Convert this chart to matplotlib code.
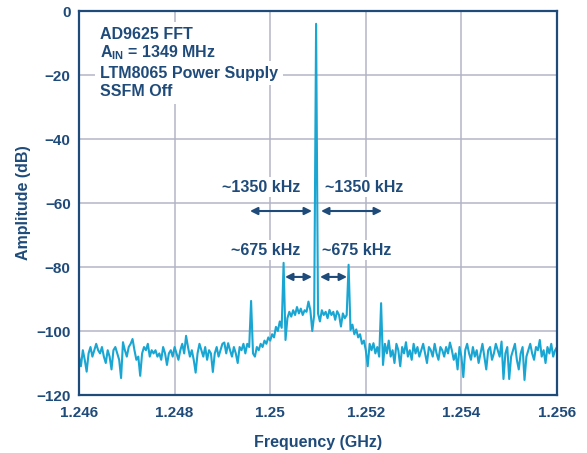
import numpy as np
import matplotlib.pyplot as plt

plt.rcParams['font.family'] = ['Liberation Sans', 'DejaVu Sans']
plt.rcParams['font.weight'] = 'bold'
plt.rcParams['mathtext.fontset'] = 'custom'
plt.rcParams['mathtext.bf'] = 'Liberation Sans:bold'
plt.rcParams['mathtext.rm'] = 'Liberation Sans:bold'

NAVY = '#1f4b7a'
TRACE = '#1aa6d2'
GRID = '#b3b5c8'

# FFT bins: 40 kHz spacing from 1.246 GHz
freq_start = 1.246   # GHz
freq_step = 0.00004  # GHz

# measured amplitude per bin (dB)
amplitude = [
    -108, -111, -106, -109, -112.7, -107, -105, -108, -106, -104,
    -106, -107, -105, -108, -110, -106, -108, -112, -106, -105,
    -107, -109, -114.7, -103.5, -106, -108, -105, -104, -102.5, -106,
    -109, -108, -114, -107, -105, -106, -104, -108, -106, -107,
    -106, -108, -107, -109, -105, -107, -110.6, -107, -106, -108,
    -105, -107, -109, -106, -104, -107, -101.5, -105, -108, -106,
    -109, -113, -107, -104, -106, -108, -105, -109, -106, -107,
    -112.8, -107, -105, -108, -106, -104, -103.6, -107, -103.8, -106,
    -108, -105, -107, -110, -105, -106, -104, -107, -104, -105,
    -90.6, -107, -108, -105, -106, -104, -105, -103, -104, -102,
    -103, -101, -102, -98.7, -100, -97, -99, -78.7, -102.8, -96,
    -94, -95.5, -93.5, -95, -92.5, -94.5, -93, -95, -93.5, -94,
    -90.8, -93.5, -100, -95, -4, -94.5, -97, -93.5, -95, -94,
    -96, -93.4, -95, -94, -96.5, -93.8, -95, -98.6, -94.5, -96,
    -95, -79.3, -99.7, -98, -101, -99.5, -102, -101, -104, -103,
    -106, -111, -104, -106, -103.8, -107, -105, -108, -91.3, -110.6,
    -104, -107, -103, -108, -106, -110, -104, -106, -111, -105,
    -107, -103.5, -108, -106, -109, -104, -107, -105, -108, -106,
    -104, -107, -110, -105, -106, -108, -104, -107, -109, -105,
    -106, -108, -105, -107, -103.6, -106, -109, -107, -112, -105,
    -108, -114.4, -106, -104, -107, -109, -105, -108, -106, -110,
    -107, -104, -108, -112, -106, -105, -109, -107, -104, -106,
    -108, -103.3, -115, -107, -105, -115, -108, -106, -104, -109,
    -112, -107, -105, -115.3, -108, -106, -104, -107, -109, -105,
    -106, -102.8, -108, -106, -110, -105, -107, -104, -108, -106, -105,
]

freq = freq_start + freq_step * np.arange(len(amplitude))

xticks = [1.246, 1.248, 1.250, 1.252, 1.254, 1.256]
xtick_labels = ['1.246', '1.248', '1.25', '1.252', '1.254', '1.256']
yticks = [0, -20, -40, -60, -80, -100, -120]

info_lines = ['AD9625 FFT', r'A$_\mathbf{IN}$ = 1349 MHz',
              'LTM8065 Power Supply', 'SSFM Off']

fig = plt.figure(figsize=(5.87, 4.53), dpi=100)
ax = fig.add_axes([0.1346, 0.128, 0.8143, 0.8477])

ax.plot(freq, amplitude, color=TRACE, lw=1.5, zorder=2)

ax.set_xlim(1.246, 1.256)
ax.set_ylim(-120, 0)
ax.set_xticks(xticks)
ax.set_xticklabels(xtick_labels)
ax.set_yticks(yticks)
ax.grid(True, color=GRID, lw=1.1, zorder=0)
ax.set_axisbelow(True)
ax.tick_params(length=0, labelsize=11, colors=NAVY)
ax.tick_params(axis='x', pad=8)
ax.tick_params(axis='y', pad=6)
for s in ax.spines.values():
    s.set_color(NAVY)
    s.set_linewidth(1.6)

ax.set_xlabel('Frequency (GHz)', fontsize=11.5, color=NAVY, fontweight='bold')
ax.set_ylabel('Amplitude (dB)', fontsize=11.5, color=NAVY, fontweight='bold')
ax.xaxis.set_label_coords(0.5, -0.105)
ax.yaxis.set_label_coords(-0.1, 0.5)

box = dict(facecolor='white', edgecolor='none', pad=3.5)
for line, y in zip(info_lines, [-7.2, -13.1, -19.4, -25.3]):
    ax.text(1.24644, y, line, fontsize=11.5, color=NAVY, fontweight='bold',
            ha='left', va='center', bbox=box, zorder=3)

# spur spacing labels and arrows
labels = [('~1350 kHz', 1.249818, -55), ('~1350 kHz', 1.251973, -55),
          ('~675 kHz', 1.249912, -74.7), ('~675 kHz', 1.251805, -74.7)]
for txt, x, y in labels:
    ax.text(x, y, txt, fontsize=11.5, color=NAVY, fontweight='bold',
            ha='center', va='center', bbox=dict(facecolor='white', edgecolor='none', pad=2),
            zorder=3)

arrows = [(1.249577, 1.250874, -62.5), (1.251063, 1.252339, -62.5),
          (1.250310, 1.250874, -83.1), (1.251042, 1.251607, -83.1)]
for x0, x1, y in arrows:
    ax.annotate('', xy=(x1, y), xytext=(x0, y),
                arrowprops=dict(arrowstyle='<|-|>', color=NAVY, lw=1.5,
                                mutation_scale=11, shrinkA=0, shrinkB=0),
                zorder=4)

fig.savefig('out.png', dpi=100)
